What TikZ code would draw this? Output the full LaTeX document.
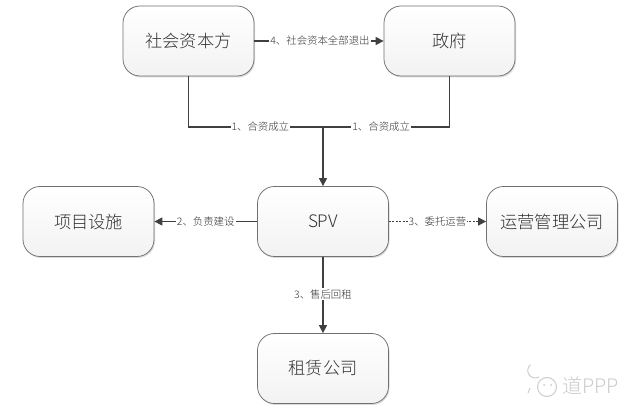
\documentclass[tikz,border=0pt]{standalone}
\usepackage{fontspec}
\setmainfont{Noto Sans CJK SC Light}
\usetikzlibrary{arrows.meta,shadows,positioning}
\definecolor{linegray}{HTML}{404040}
\definecolor{edgegray}{HTML}{707070}
\definecolor{textgray}{HTML}{303030}
\definecolor{marklight}{HTML}{CCCCCC}
\tikzset{
  entity/.style={draw=edgegray,line width=0.75pt,rounded corners=17pt,
    top color=white,bottom color=black!5,
    minimum width=131pt,minimum height=70pt,inner sep=0pt,
    text=textgray,font=\fontsize{17.2}{19}\selectfont,
    drop shadow={shadow xshift=1pt,shadow yshift=-1.5pt,opacity=.14,fill=black}},
  link/.style={draw=linegray,line width=1.2pt},
  linkarrow/.style={link,-{Triangle[length=8pt,width=8pt]}},
  dotlink/.style={linkarrow,dash pattern=on 2pt off 1.5pt},
  tag/.style={fill=white,inner xsep=1pt,inner ysep=1pt,text=textgray,
    font=\fontsize{10.4}{12}\selectfont},
  wmicon/.style={draw=marklight,line width=1pt}
}
\begin{document}
\begin{tikzpicture}[x=1pt,y=-1pt]
  \useasboundingbox (0,0) rectangle (640,419);
  \fill[white] (0,0) rectangle (640,419);

  % Parties and project entities
  \node[entity] (capital) at (188.5,41) {社会资本方};
  \node[entity] (gov)     at (449.5,41) {政府};
  \node[entity] (spv)     at (323,221.5) {SPV};
  \node[entity] (asset)   at (88.5,221.5) {项目设施};
  \node[entity] (oper)    at (552,221.5) {运营管理公司};
  \node[entity] (lease)   at (323,368.5) {租赁公司};

  % Shareholders merge into the SPV
  \coordinate (merge) at (spv.north |- 0,127);
  \draw[link] (capital.south) |- (merge)
    node[tag,pos=0.767] {1、合资成立};
  \draw[link] (gov.south) |- (merge)
    node[tag,pos=0.77] {1、合资成立};
  \draw[linkarrow] (merge) -- (spv.north);

  % Remaining numbered relations
  \draw[linkarrow] (capital.east) -- (gov.west)
    node[tag,midway,xshift=1pt] {4、社会资本全部退出};
  \draw[linkarrow] (spv.west) -- (asset.east)
    node[tag,midway] {2、负责建设};
  \draw[dotlink] (spv.east) -- (oper.west)
    node[tag,midway] {3、委托运营};
  \draw[linkarrow] (spv.south) -- (lease.north)
    node[tag,pos=0.49] {3、售后回租};

  % Account mark in the lower right corner
  \node[anchor=west,inner sep=0pt,text=marklight,font=\fontsize{20}{22}\selectfont]
    (mark) at (562,386) {道PPP};
  \draw[wmicon] (547,387) circle (9.5);
  \draw[wmicon] (539,377) arc (60:230:7.5);
  \draw[wmicon] (530,388) -- (528,393);
  \fill[marklight] (544,385) circle (1) (551,385) circle (1);
\end{tikzpicture}
\end{document}
